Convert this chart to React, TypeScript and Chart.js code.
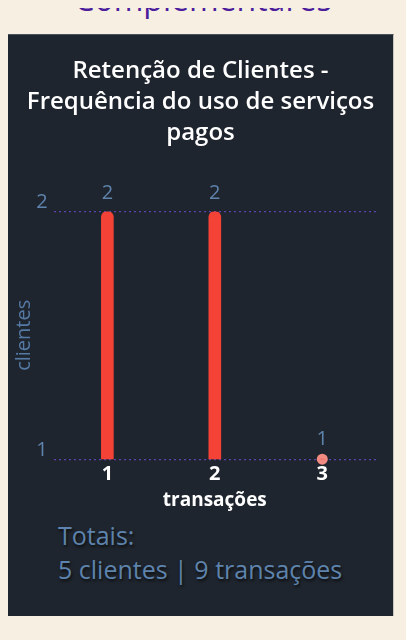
import React, { useEffect, useRef } from "react";
import { Chart, registerables } from "chart.js";

Chart.register(...registerables);

const categories = ["1", "2", "3"];
const clientCounts = [2, 2, 1];
const yTicks = [1, 2];
const titleLines = ["Retenção de Clientes -", "Frequência do uso de serviços", "pagos"];
const xAxisTitle = "transações";
const yAxisTitle = "clientes";
const totalsLabel = "Totais:";
const totalClients = 5;
const totalTransactions = 9;
const pageHeading = "Complementares";

const FONT = '"Open Sans", "Noto Sans", sans-serif';
const STEEL = "#5e83ac";
const BAR_RED = "#f44336";
const DOT_PINK = "#f28b82";
const GRID = "#5a42ae";
const CARD_BG = "#1f252e";

export default function App() {
  const ref = useRef<HTMLCanvasElement | null>(null);

  useEffect(() => {
    document.body.style.background = "#f6efe2";
    const yMin = Math.min(...yTicks);
    const yMax = Math.max(...yTicks);

    const valueLabels = {
      id: "valueLabels",
      afterDatasetsDraw(chart: any) {
        const ctx = chart.ctx;
        const meta = chart.getDatasetMeta(0);
        const yScale = chart.scales.y;
        ctx.save();
        ctx.font = `400 20px ${FONT}`;
        ctx.fillStyle = STEEL;
        ctx.textAlign = "center";
        ctx.textBaseline = "bottom";
        meta.data.forEach((el: any, i: number) => {
          const v = clientCounts[i];
          const y = yScale.getPixelForValue(v);
          ctx.fillText(String(v), el.x, y - (v <= yMin ? 10 : 8));
        });
        ctx.restore();
      },
    };

    const chart = new Chart(ref.current as HTMLCanvasElement, {
      type: "bar",
      data: {
        labels: categories,
        datasets: [
          {
            type: "bar",
            data: clientCounts,
            backgroundColor: BAR_RED,
            barThickness: 12,
            borderRadius: 6,
            borderSkipped: "start",
          } as any,
          {
            type: "line",
            data: clientCounts,
            showLine: false,
            clip: false,
            pointRadius: (c: any) => (c.raw <= yMin ? 5.5 : 0),
            pointBackgroundColor: DOT_PINK,
            pointBorderWidth: 0,
          } as any,
        ],
      },
      options: {
        animation: false,
        responsive: true,
        maintainAspectRatio: false,
        layout: { padding: { left: 0, right: 0, top: 0, bottom: 2 } },
        plugins: {
          legend: { display: false },
          tooltip: { enabled: false },
          title: {
            display: true,
            text: titleLines,
            color: "#ffffff",
            font: { family: FONT, size: 24, weight: "600", lineHeight: 1.29 },
            padding: { top: 21, bottom: 62.5 },
          },
        },
        scales: {
          x: {
            grid: { display: false, drawTicks: false },
            border: { display: false },
            ticks: {
              color: "#ffffff",
              font: { family: FONT, size: 20, weight: "700" },
              padding: 3,
            },
            title: {
              display: true,
              text: xAxisTitle,
              color: "#ffffff",
              font: { family: FONT, size: 19, weight: "700" },
              padding: { top: 0, bottom: 1 },
            },
          },
          y: {
            min: yMin,
            max: yMax,
            grid: { color: GRID, drawTicks: false, lineWidth: 1.2 },
            border: { display: false, dash: [2, 3] },
            ticks: {
              stepSize: 1,
              color: STEEL,
              font: { family: FONT, size: 20 },
              padding: 6,
              labelOffset: -9,
            },
            title: {
              display: true,
              text: yAxisTitle,
              color: "#5479a4",
              font: { family: FONT, size: 20 },
              padding: { top: 4, bottom: -5.8 },
            },
          },
          yRightSpace: {
            position: "right",
            display: true,
            grid: { display: false, drawTicks: false },
            border: { display: false },
            ticks: { display: false },
            afterFit: (s: any) => {
              s.width = 17;
            },
          },
        },
      },
      plugins: [valueLabels],
    } as any);

    return () => chart.destroy();
  }, []);

  return (
    <div style={{ fontFamily: FONT }}>
      <div style={{ position: "relative", height: 26 }}>
        <div
          style={{
            position: "absolute",
            top: -26,
            left: 0,
            width: 390,
            textAlign: "center",
            fontSize: 32,
            lineHeight: "34px",
            color: "#4b1c9c",
            fontWeight: 500,
            whiteSpace: "nowrap",
          }}
        >
          {pageHeading}
        </div>
      </div>
      <div
        style={{
          width: 386,
          height: 582,
          boxSizing: "border-box",
          background: CARD_BG,
          borderTop: "1px solid #4a5058",
          borderRight: "1px solid #c9c5bd",
          position: "relative",
        }}
      >
        <div style={{ position: "relative", width: 385, height: 480 }}>
          <canvas ref={ref} />
        </div>
        <div
          style={{
            marginTop: 3,
            paddingLeft: 50,
            fontSize: 25,
            lineHeight: "34px",
            color: STEEL,
            textShadow: "1px 2px 3px rgba(0,0,0,0.7)",
          }}
        >
          <div>{totalsLabel}</div>
          <div>{`${totalClients} clientes | ${totalTransactions} transações`}</div>
        </div>
      </div>
    </div>
  );
}
